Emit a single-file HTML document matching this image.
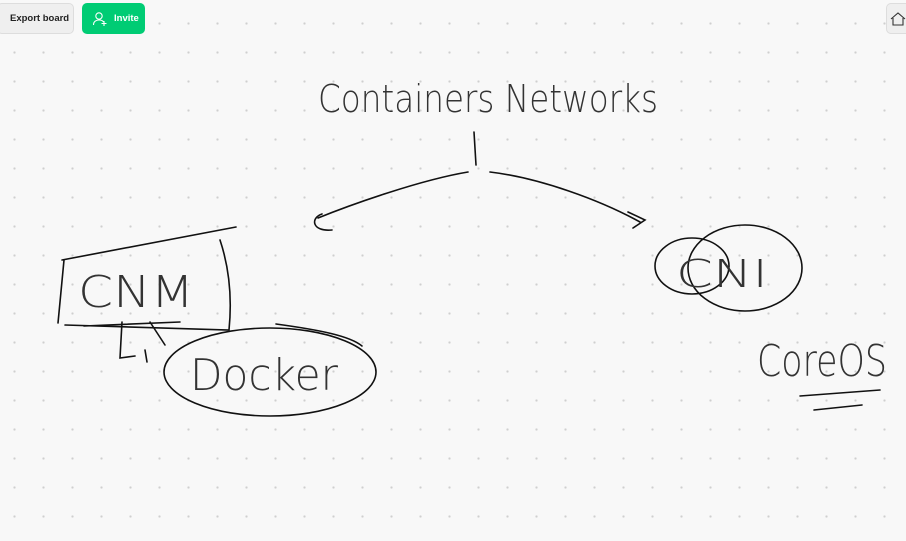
<!DOCTYPE html>
<html><head><style>
html,body{margin:0;padding:0;}
body{width:906px;height:541px;overflow:hidden;position:relative;background-color:#f8f8f8;
background-image:radial-gradient(circle,#cfcfcf 1px,transparent 1.3px);background-size:29px 29px;background-position:0px 9px;
font-family:"Liberation Sans",sans-serif;}
.btn{position:absolute;top:3px;height:31px;border-radius:5px;font-size:9.5px;font-weight:bold;display:flex;align-items:center;box-sizing:border-box;}
.hw{font-family:"DejaVu Sans","Liberation Sans",sans-serif;font-weight:200;fill:#333;stroke:none;}
</style></head><body>
<div class="btn" style="left:-3px;width:77px;background:#efefef;border:1px solid #ddd;color:#222;padding-left:12px;">Export board</div>
<div class="btn" style="left:82px;width:63px;background:#00cc74;color:#fff;padding-left:10px;">
<svg width="16" height="16" viewBox="0 0 16 16" style="margin-right:6px"><circle cx="7" cy="5" r="3.2" fill="none" stroke="#fff" stroke-width="1.1"/><path d="M1.5 14c0-3.5 2.5-5 5.5-5s4 1 4.5 2" fill="none" stroke="#fff" stroke-width="1.1"/><path d="M12 10v5M9.5 12.5h5" stroke="#fff" stroke-width="1.1"/></svg>Invite</div>
<div style="position:absolute;left:886px;top:3px;width:30px;height:31px;border:1px solid #ddd;border-radius:5px;background:#efefef;box-sizing:border-box;">
<svg width="20" height="20" style="position:absolute;left:2px;top:6px" fill="none" stroke="#333" stroke-width="1.1"><path d="M2 9 L9 3 L16 9 M4 8 V15 H14 V8"/></svg></div>
<svg width="906" height="541" style="position:absolute;left:0;top:0" fill="none" stroke="#111" stroke-width="1.6" stroke-linecap="round">
<text class="hw" x="318" y="112" font-size="38" textLength="340" lengthAdjust="spacingAndGlyphs">Containers Networks</text>
<path d="M474 132 L476 165"/>
<path d="M468 172 C420 180 350 205 318 218"/>
<path d="M322 214 C310 218 312 232 332 230"/>
<path d="M490 172 C540 178 600 200 640 222"/>
<path d="M628 212 L645 220 L633 228"/>
<path d="M62 260 L236 227"/>
<path d="M64 260 L58 323"/>
<path d="M220 240 C230 270 232 300 229 330 L65 325"/>
<text class="hw" x="78" y="307" font-size="44" textLength="116" lengthAdjust="spacingAndGlyphs">CNM</text>
<path d="M84 326 L180 322"/>
<path d="M122 322 L120 358 L135 356"/>
<path d="M150 322 L165 345"/>
<path d="M145 350 L147 362"/>
<ellipse cx="270" cy="372" rx="106" ry="44"/>
<path d="M276 324 C320 330 350 336 362 346"/>
<text class="hw" x="190" y="390" font-size="44" textLength="148" lengthAdjust="spacingAndGlyphs">Docker</text>
<ellipse cx="745" cy="268" rx="57" ry="43"/>
<ellipse cx="692" cy="266" rx="37" ry="28"/>
<text class="hw" x="676" y="287" font-size="38" textLength="92" lengthAdjust="spacingAndGlyphs">CNI</text>
<text class="hw" x="757" y="376" font-size="44" textLength="130" lengthAdjust="spacingAndGlyphs">CoreOS</text>
<path d="M800 396 L880 390"/>
<path d="M814 410 L862 405"/>
</svg>
</body></html>
